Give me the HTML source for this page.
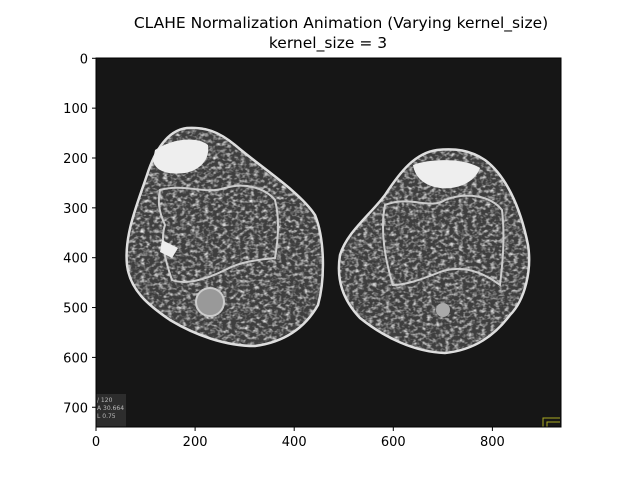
<!DOCTYPE html>
<html><head><meta charset="utf-8"><style>
body{margin:0;background:#fff;font-family:"Liberation Sans","DejaVu Sans",sans-serif}
svg text{font-family:"DejaVu Sans","Liberation Sans",sans-serif}
</style></head><body>
<svg width="640" height="480" viewBox="0 0 640 480">
<defs>
<filter id="noise" x="0" y="0" width="100%" height="100%">
<feTurbulence type="fractalNoise" baseFrequency="0.22 0.3" numOctaves="2" seed="4"/>
<feColorMatrix type="matrix" values="0 0 0 0 1  0 0 0 0 1  0 0 0 0 1  2.2 0 0 0 -0.95"/>
</filter>
<clipPath id="legs"><path id="lp" d="M187,128 C205,127 218,131 235,145 C262,168 300,192 315,215 C325,240 325,280 318,305 C305,328 285,342 255,346 C225,346 195,335 170,320 C148,305 130,290 127,265 C124,235 137,205 147,175 C155,150 168,130 187,128Z M437,150 C455,148 470,150 485,160 C505,175 520,205 528,245 C532,270 525,300 510,315 C495,335 475,350 445,353 C415,352 385,338 360,318 C343,300 336,280 340,255 C347,232 370,215 385,195 C400,172 415,153 437,150Z"/></clipPath>
</defs>
<rect x="96" y="58" width="465" height="369" fill="#161616"/>
<g>
<use href="#lp" fill="#3e3e3e"/>
<rect x="96" y="58" width="465" height="369" filter="url(#noise)" clip-path="url(#legs)" opacity="0.9"/>
<use href="#lp" fill="none" stroke="#dedede" stroke-width="2.5"/>
<path d="M160,190 C185,183 205,195 225,188 C245,182 265,188 275,200 C280,220 278,240 275,258 C255,260 240,262 225,270 C205,280 185,285 172,280 C165,260 160,240 165,225 C158,210 158,200 160,190Z" fill="none" stroke="#ccc" stroke-width="2"/>
<path d="M155,150 C170,140 195,135 208,145 C210,160 200,170 185,173 C170,175 155,172 153,160Z" fill="#eee"/>
<circle cx="210" cy="302" r="14" fill="#999" stroke="#ccc" stroke-width="2"/>
<path d="M162,240 L178,248 L172,258 L160,252Z" fill="#eee"/>
<path d="M385,205 C410,195 430,210 445,200 C465,192 490,195 502,210 C505,235 503,260 500,285 C480,270 460,265 440,272 C420,280 405,285 393,285 C385,260 380,230 385,205Z" fill="none" stroke="#ccc" stroke-width="2"/>
<path d="M413,165 C430,158 465,158 480,168 C475,182 458,190 440,188 C425,186 415,178 413,165Z" fill="#eee"/>
<circle cx="443" cy="310" r="7" fill="#aaa"/>
<rect x="96" y="394" width="30" height="33" fill="#333" opacity="0.8"/>
<text x="97" y="402" font-size="6" fill="#bbb">/ 120</text>
<text x="97" y="410" font-size="6" fill="#bbb">A 30.664</text>
<text x="97" y="418" font-size="6" fill="#bbb">L 0.75</text>
<path d="M543,427 V418 H560 M547,427 V422 H560" fill="none" stroke="#aa2" stroke-width="1"/>
</g>
<rect x="96" y="58" width="465" height="369" fill="none" stroke="#000" stroke-width="1"/>
<g id="xt"></g>
<g id="yt"></g>
<text x="341" y="28" font-size="15.5" text-anchor="middle">CLAHE Normalization Animation (Varying kernel_size)</text>
<text x="328" y="48" font-size="15.5" text-anchor="middle">kernel_size = 3</text>
</svg>
<script>
const xTicks=[0,200,400,600,800];
const yTicks=[0,100,200,300,400,500,600,700];
const sx=v=>96+v*0.4955, sy=v=>58.3+v*0.4985;
const ns="http://www.w3.org/2000/svg";
const xg=document.getElementById('xt'), yg=document.getElementById('yt');
xTicks.forEach(t=>{
 const l=document.createElementNS(ns,'line');
 
 
 l.setAttribute('x1',sx(t));l.setAttribute('x2',sx(t));l.setAttribute('y1',427);l.setAttribute('y2',431);l.setAttribute('stroke','#000');
 xg.appendChild(l);
 const tx=document.createElementNS(ns,'text');
 
 
 tx.setAttribute('x',sx(t));tx.setAttribute('y',446);tx.setAttribute('font-size','13');tx.setAttribute('text-anchor','middle');
 tx.textContent=t;xg.appendChild(tx);
});
yTicks.forEach(t=>{
 const l=document.createElementNS(ns,'line');
 
 
 l.setAttribute('x1',92);l.setAttribute('x2',96);l.setAttribute('y1',sy(t));l.setAttribute('y2',sy(t));l.setAttribute('stroke','#000');
 yg.appendChild(l);
 const tx=document.createElementNS(ns,'text');
 
 
 tx.setAttribute('x',88);tx.setAttribute('y',sy(t)+5);tx.setAttribute('font-size','13');tx.setAttribute('text-anchor','end');
 tx.textContent=t;yg.appendChild(tx);
});
</script>
</body></html>
